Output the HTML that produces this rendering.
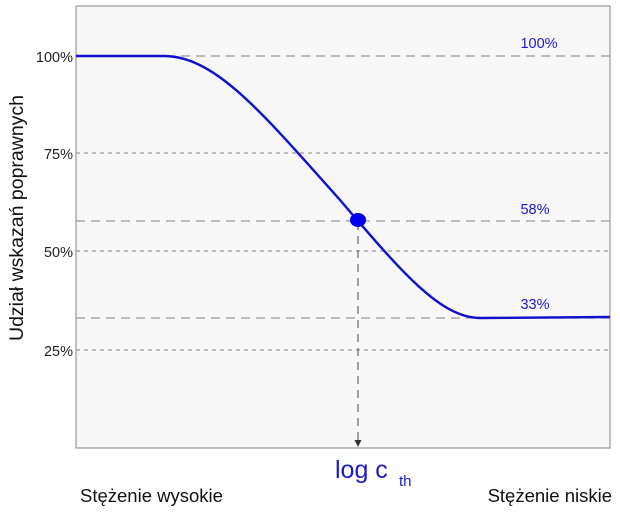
<!DOCTYPE html>
<html><head><meta charset="utf-8"><style>
body{margin:0;background:#fff;}
svg text{font-family:"Liberation Sans",sans-serif;}
</style></head><body>
<svg width="620" height="512" viewBox="0 0 620 512" xmlns="http://www.w3.org/2000/svg">
<rect x="76" y="6" width="534" height="442" fill="#f7f7f7" stroke="#999" stroke-width="1.2"/>
<g stroke="#999" stroke-width="1.2" fill="none">
<line x1="76" y1="56" x2="610" y2="56" stroke-dasharray="9,6"/>
<line x1="76" y1="221" x2="610" y2="221" stroke-dasharray="9,6"/>
<line x1="76" y1="318" x2="610" y2="318" stroke-dasharray="9,6"/>
<line x1="76" y1="153" x2="610" y2="153" stroke-dasharray="4,4"/>
<line x1="76" y1="251" x2="610" y2="251" stroke-dasharray="4,4"/>
<line x1="76" y1="350" x2="610" y2="350" stroke-dasharray="4,4"/>
<line x1="358" y1="222" x2="358" y2="442" stroke="#666" stroke-dasharray="8,6"/>
</g>
<path d="M354.5,440 L361.5,440 L358,447 Z" fill="#333"/>
<path d="M76,56 L165,56 C215,57 260,110 340,200 C400,270 440,318 480,318 L610,317" fill="none" stroke="#1010cc" stroke-width="2.4"/>
<ellipse cx="358" cy="220" rx="8" ry="7" fill="#0000ee"/>
<g font-size="14.5" fill="#222" text-anchor="end">
<text x="73" y="62">100%</text>
<text x="73" y="159">75%</text>
<text x="73" y="257">50%</text>
<text x="73" y="356">25%</text>
</g>
<text transform="translate(23,218) rotate(-90)" font-size="19.5" fill="#111" text-anchor="middle">Udział wskazań poprawnych</text>
<g font-size="14.5" fill="#1a1acc" text-anchor="middle">
<text x="539" y="48">100%</text>
<text x="535" y="214">58%</text>
<text x="535" y="309">33%</text>
</g>
<text x="335" y="478" font-size="25" fill="#1a1acc">log c</text>
<text x="399" y="486" font-size="15" fill="#1a1acc">th</text>
<text x="80" y="502" font-size="18.5" fill="#111">Stężenie wysokie</text>
<text x="612" y="502" font-size="18.5" fill="#111" text-anchor="end">Stężenie niskie</text>
</svg>
</body></html>
